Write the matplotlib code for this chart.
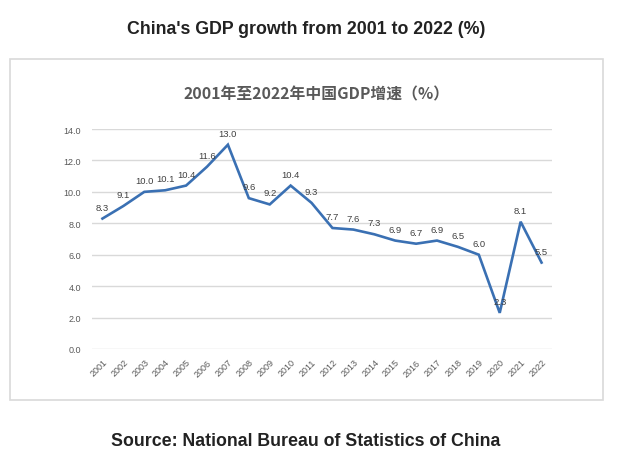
import matplotlib
matplotlib.use("Agg")
import matplotlib.pyplot as plt
from matplotlib.patches import Rectangle

# data
years = [str(y) for y in range(2001, 2023)]
growth = [8.3, 9.1, 10.0, 10.1, 10.4, 11.6, 13.0, 9.6, 9.2, 10.4, 9.3,
          7.7, 7.6, 7.3, 6.9, 6.7, 6.9, 6.5, 6.0, 2.3, 8.1, 5.5]
yticks = [0, 2, 4, 6, 8, 10, 12, 14]

W, H = 624, 464
fig = plt.figure(figsize=(W / 100, H / 100), dpi=100)
fig.patch.set_facecolor("white")

def fx(px):
    return px / W

def fy(py):
    return 1 - py / H

# outer frame of the embedded chart
fig.patches.append(Rectangle((fx(10), fy(401)), fx(603) - fx(10), fy(60) - fy(401),
                             transform=fig.transFigure, fill=False,
                             edgecolor="#d9d9d9", linewidth=1.2))

fig.text(fx(306), fy(30), "China's GDP growth from 2001 to 2022 (%)", ha="center", va="center",
         fontsize=12.8, fontweight="bold", family="Liberation Sans", color="#222222")
fig.text(fx(306), fy(441), "Source: National Bureau of Statistics of China", ha="center", va="center",
         fontsize=12.8, fontweight="bold", family="Liberation Sans", color="#222222")
fig.text(fx(317), fy(94), "2001年至2022年中国GDP增速（%）", ha="center", va="center",
         fontsize=11.4, fontweight="bold", family=["Noto Sans CJK SC", "DejaVu Sans"], color="#595959")

ax = fig.add_axes([fx(92), fy(350), fx(552) - fx(92), fy(130) - fy(350)])
x = list(range(len(years)))
ax.plot(x, growth, color="#3a70b3", linewidth=1.9, solid_joinstyle="miter")

for xi, v in zip(x, growth):
    ax.annotate(f"{v:.1f}", (xi, v), xytext=(0, 5), textcoords="offset points",
                ha="center", va="bottom", fontsize=6.8, color="#404040",
                family="Liberation Sans")

ax.set_xlim(-0.5, len(years) - 0.5)
ax.set_ylim(0, 14)
ax.set_yticks(yticks)
ax.set_yticklabels([f"{t:.1f}" for t in yticks])
ax.set_xticks(x)
ax.set_xticklabels(years, rotation=45, ha="right", rotation_mode="anchor")
ax.tick_params(axis="both", length=0, labelsize=6.5, labelcolor="#595959")
ax.tick_params(axis="y", pad=8)
ax.tick_params(axis="x", pad=6)
for lab in ax.get_xticklabels() + ax.get_yticklabels():
    lab.set_family("Liberation Sans")
ax.grid(axis="y", color="#d9d9d9", linewidth=1)
ax.set_axisbelow(True)
for s in ax.spines.values():
    s.set_visible(False)

fig.savefig("out.png", dpi=100, facecolor="white")
